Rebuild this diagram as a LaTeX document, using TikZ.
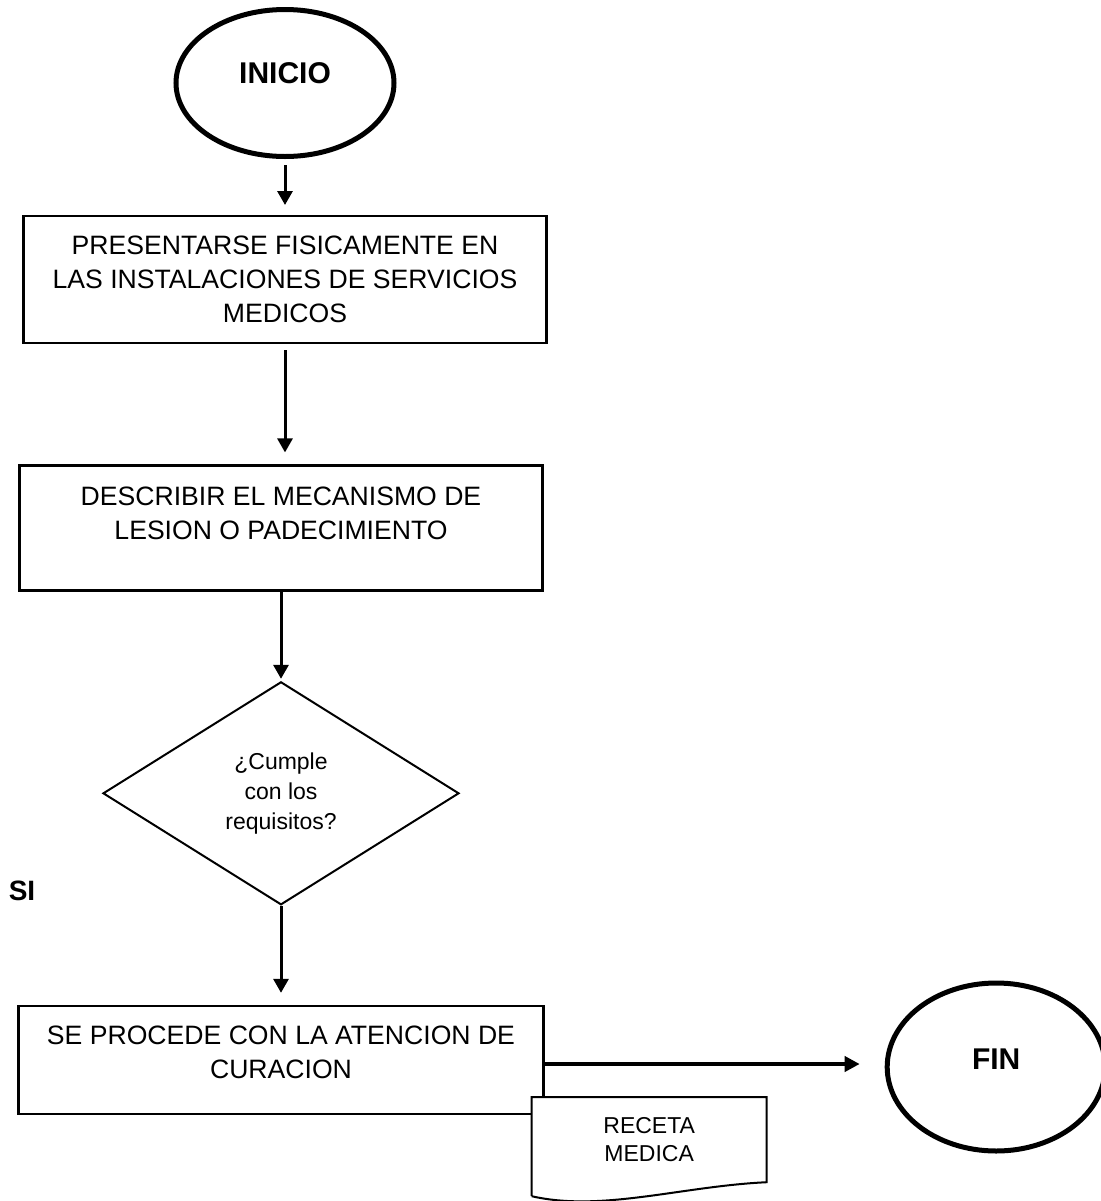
\documentclass[tikz,border=0pt]{standalone}
\usepackage{fontspec}
\setmainfont{Liberation Sans}
\usetikzlibrary{arrows.meta, positioning, shapes.geometric}
\tikzset{
    endnode/.style={ellipse, draw=black, line width=2.5pt, minimum width=109pt, font=\fontsize{15}{18}\selectfont\bfseries},
    stepbox/.style={rectangle, draw=black, line width=1.2pt, minimum width=261.5pt, align=center, font=\fontsize{13.3}{17}\selectfont},
    decisionnode/.style={diamond, draw=black, line width=1pt, minimum width=178pt, minimum height=111.5pt, aspect=1.6, inner sep=0pt, align=center, font=\fontsize{11.5}{15}\selectfont},
    docnode/.style={rectangle, fill=white, outer sep=0pt, minimum width=117.5pt, minimum height=42.5pt, align=center, font=\fontsize{11.5}{14}\selectfont},
    docline/.style={draw=black, line width=1pt},
    myarrow/.style={-{Triangle[length=7pt, width=7.5pt]}, line width=1.5pt},
    bigarrow/.style={-{Triangle[length=7.5pt, width=7.5pt]}, line width=2.2pt},
    silabel/.style={font=\fontsize{14}{17}\selectfont\bfseries}
}

\begin{document}
\begin{tikzpicture}[node distance=1cm, auto]
        \useasboundingbox (0,0) rectangle (550.5pt,-600.5pt);

        % ------------------
        % nodes
        % ------------------

        \node[endnode, minimum height=73.5pt, text depth=10pt] (inicio) at (142.5pt,-41.5pt) {INICIO};
        \node[stepbox, below=28pt of inicio, minimum height=63.5pt] (presentarse) {PRESENTARSE FISICAMENTE EN\\ LAS INSTALACIONES DE SERVICIOS\\ MEDICOS};
        \node[stepbox, below=60pt of presentarse, xshift=-2pt, minimum height=62.5pt, text depth=15pt] (describir) {DESCRIBIR EL MECANISMO DE\\ LESION O PADECIMIENTO};
        \node[decisionnode, below=44.5pt of describir] (requisitos) {¿Cumple\\ con los\\ requisitos?};
        \node[silabel] (si) at ([xshift=-129.5pt, yshift=7.5pt]requisitos.south) {SI};
        \node[stepbox, below=49.5pt of requisitos, minimum width=262.5pt, minimum height=54pt, text depth=8pt] (curacion) {SE PROCEDE CON LA ATENCION DE\\ CURACION};
        \node[endnode, right=170pt of curacion, yshift=-3.5pt, minimum height=84pt, text depth=8pt] (fin) {FIN};

        \node[docnode, anchor=north west] (receta) at ([xshift=-6.5pt, yshift=9pt]curacion.south east) {RECETA\\ MEDICA};
        \draw[docline] ([yshift=-7pt]receta.south west) -- (receta.north west) -- (receta.north east) -- (receta.south east)
            .. controls ([xshift=-42.5pt, yshift=-2pt]receta.south east) and ([xshift=35pt, yshift=-15pt]receta.south west) .. ([yshift=-7pt]receta.south west);

        % ------------------
        % arrows
        % ------------------

        \draw[myarrow, shorten <=3pt, shorten >=5pt] (inicio.south) -- (inicio.south |- presentarse.north);
        \draw[myarrow, shorten <=3pt, shorten >=6pt] (presentarse.south) -- (presentarse.south |- describir.north);
        \draw[myarrow, shorten >=1pt] (describir.south) -- (requisitos.north);
        \draw[myarrow, shorten >=6pt] (requisitos.south) -- (curacion.north);
        \draw[bigarrow, shorten >=12.5pt] ([yshift=-2pt]curacion.east) -- ([yshift=-2pt]curacion.east -| fin.west);

    \end{tikzpicture}
\end{document}
